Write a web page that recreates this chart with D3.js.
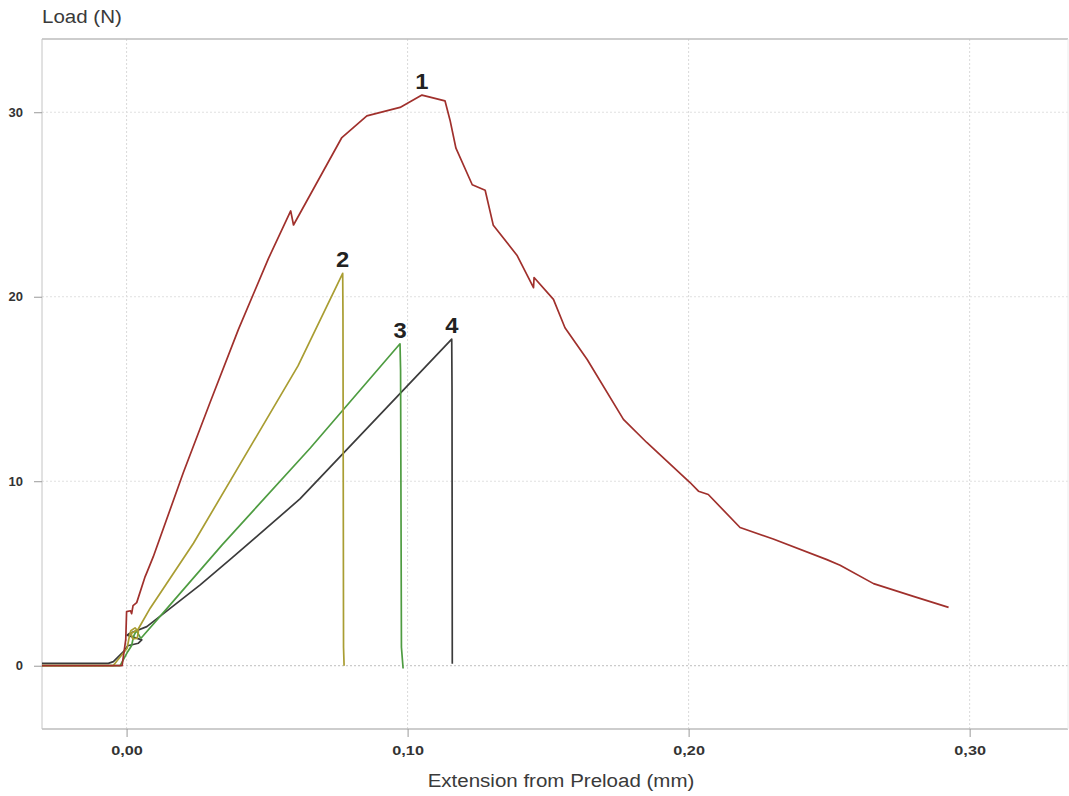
<!DOCTYPE html>
<html>
<head>
<meta charset="utf-8">
<script src="https://cdn.jsdelivr.net/npm/d3@7"></script>
<style>
  html, body { margin: 0; padding: 0; background: #ffffff; }
  svg { display: block; font-family: "Liberation Sans", Arial, sans-serif; }
</style>
</head>
<body>
<svg id="chart" width="1069" height="796"></svg>
<script>
// ---- Data ----
const xTicks = [0, 0.10, 0.20, 0.30];
const xTickLabels = ["0,00", "0,10", "0,20", "0,30"];
const yTicks = [0, 10, 20, 30];
const yTickLabels = ["0", "10", "20", "30"];
const xTitle = "Extension from Preload (mm)";
const yTitle = "Load (N)";

const seriesNames = ["1", "2", "3", "4"];
const seriesColors = ["#a0302c", "#a99d32", "#4e9c41", "#3b3b3b"];

const ext1 = [-0.0301, -0.0016, -0.0003, 0.0000, 0.0014, 0.0018, 0.0023, 0.0036, 0.0066, 0.0072, 0.0095,
  0.0202, 0.0297, 0.0398, 0.0505, 0.0584, 0.0594, 0.0766, 0.0855, 0.0973, 0.1051, 0.1133, 0.1151,
  0.1172, 0.1230, 0.1276, 0.1305, 0.1389, 0.1448, 0.1450, 0.1519, 0.1560, 0.1639, 0.1768, 0.1851,
  0.2005, 0.2035, 0.2070, 0.2183, 0.2301, 0.2492, 0.2539, 0.2658, 0.2800, 0.2925];
const load1 = [0, 0, 1.41, 2.93, 2.98, 2.82, 3.26, 3.42, 4.83, 5.05, 5.91,
  10.47, 14.27, 18.23, 22.08, 24.65, 23.89, 28.63, 29.80, 30.26, 30.93, 30.62, 29.57,
  28.05, 26.07, 25.77, 23.87, 22.25, 20.49, 21.04, 19.86, 18.32, 16.60, 13.35, 12.10,
  9.93, 9.46, 9.28, 7.49, 6.87, 5.75, 5.45, 4.45, 3.76, 3.16];

const ext2 = [-0.0301, -0.0048, 0.0002, 0.0010, 0.0015, 0.0030, 0.0042, 0.0038, 0.0022, 0.0016, 0.0040,
  0.0084, 0.0238, 0.0610, 0.0769, 0.0770, 0.0772, 0.0774];
const load2 = [0, 0, 0.95, 1.6, 1.9, 2.05, 1.85, 1.5, 1.45, 1.75, 1.95,
  3.12, 6.64, 16.25, 21.27, 19.0, 1.0, 0];

const ext3 = [-0.0301, -0.0023, 0.0004, 0.0018, 0.0025, 0.0035, 0.0048, 0.0052,
  0.0144, 0.0340, 0.0653, 0.0973, 0.0975, 0.0978, 0.0984];
const load3 = [0, 0, 0.76, 1.1, 1.6, 1.9, 1.55, 1.5,
  3.11, 6.55, 11.79, 17.45, 16.0, 1.0, -0.15];

const ext4 = [-0.0301, -0.0065, -0.0047, -0.0011, 0.0004, 0.0042, 0.0054, 0.0002, 0.0010,
  0.0072, 0.0262, 0.0375, 0.0617, 0.1157, 0.1158, 0.1159];
const load4 = [0.13, 0.13, 0.22, 0.76, 1.08, 1.22, 1.4, 1.66, 1.75,
  2.12, 4.38, 5.84, 9.04, 17.70, 15.0, 0.10];

const allExt = [ext1, ext2, ext3, ext4];
const allLoad = [load1, load2, load3, load4];

// ---- Layout ----
const svg = d3.select("#chart");
const plot = { left: 42, top: 39, right: 1068, bottom: 729 };
const font = "'Liberation Sans', Arial, sans-serif";

const x = d3.scaleLinear().domain([-0.0301, 0.3350]).range([plot.left, plot.right]);
const y = d3.scaleLinear().domain([-3.43, 33.97]).range([plot.bottom, plot.top]);

// gridlines
const grid = svg.append("g");
grid.selectAll("line.gx").data(xTicks).enter().append("line")
  .attr("x1", d => x(d)).attr("x2", d => x(d))
  .attr("y1", plot.top).attr("y2", plot.bottom)
  .attr("stroke", "#d9d9d9").attr("stroke-width", 1).attr("stroke-dasharray", "2,2");
grid.selectAll("line.gy").data(yTicks).enter().append("line")
  .attr("x1", plot.left).attr("x2", plot.right)
  .attr("y1", d => y(d)).attr("y2", d => y(d))
  .attr("stroke", d => d === 0 ? "#bdbdbd" : "#e0e0e0").attr("stroke-width", 1).attr("stroke-dasharray", "2,2");

// frame
svg.append("line").attr("x1", plot.left).attr("x2", plot.right).attr("y1", plot.top).attr("y2", plot.top)
  .attr("stroke", "#bcbcbc").attr("stroke-width", 1.5);
svg.append("line").attr("x1", plot.left).attr("x2", plot.right).attr("y1", plot.bottom).attr("y2", plot.bottom)
  .attr("stroke", "#bcbcbc").attr("stroke-width", 1.5);
svg.append("line").attr("x1", plot.left).attr("x2", plot.left).attr("y1", plot.top).attr("y2", plot.bottom)
  .attr("stroke", "#c4c4c4").attr("stroke-width", 1);
svg.append("line").attr("x1", plot.right).attr("x2", plot.right).attr("y1", plot.top).attr("y2", plot.bottom)
  .attr("stroke", "#ececec").attr("stroke-width", 1);

// axes
const xAxis = d3.axisBottom(x).tickValues(xTicks).tickSize(8).tickPadding(9)
  .tickFormat((d, i) => xTickLabels[i]);
const gx = svg.append("g").attr("transform", `translate(0,${plot.bottom})`).call(xAxis);
gx.select(".domain").remove();
gx.selectAll(".tick line").attr("stroke", "#9a9a9a");
gx.selectAll(".tick text").attr("fill", "#333").attr("font-size", 12.5).attr("font-weight", "bold")
  .attr("font-family", font)
  .attr("transform", "scale(1.3,1)");

const yAxis = d3.axisLeft(y).tickValues(yTicks).tickSize(8).tickPadding(11)
  .tickFormat((d, i) => yTickLabels[i]);
const gy = svg.append("g").attr("transform", `translate(${plot.left},0)`).call(yAxis);
gy.select(".domain").remove();
gy.selectAll(".tick line").attr("stroke", "#9a9a9a");
gy.selectAll(".tick text").attr("fill", "#333").attr("font-size", 13).attr("font-weight", "bold")
  .attr("font-family", font);

// titles (slightly wide lettering as in the reference)
svg.append("text").attr("transform", "translate(42,23) scale(1.08,1)").attr("fill", "#3a3a3a")
  .attr("font-size", 19).text(yTitle);
svg.append("text").attr("transform", `translate(${(plot.left + plot.right) / 2 + 6},787) scale(1.08,1)`)
  .attr("text-anchor", "middle")
  .attr("fill", "#3a3a3a").attr("font-size", 19).text(xTitle);

// series
const line = d3.line().x(d => x(d[0])).y(d => y(d[1]));
const clip = svg.append("clipPath").attr("id", "clip").append("rect")
  .attr("x", plot.left).attr("y", plot.top).attr("width", plot.right - plot.left).attr("height", plot.bottom - plot.top);
const gLines = svg.append("g").attr("clip-path", "url(#clip)");
[3, 2, 1, 0].forEach(i => {
  const pts = allExt[i].map((e, k) => [e, allLoad[i][k]]);
  gLines.append("path").attr("d", line(pts)).attr("fill", "none")
    .attr("stroke", seriesColors[i]).attr("stroke-width", 1.7).attr("stroke-linejoin", "round");
});

// peak labels
seriesNames.forEach((name, i) => {
  const ld = allLoad[i];
  const k = d3.maxIndex(ld);
  svg.append("text").attr("transform", `translate(${x(allExt[i][k])},${y(ld[k]) - 6}) scale(1.08,1)`)
    .attr("text-anchor", "middle").attr("font-size", 22).attr("font-weight", "bold")
    .attr("fill", "#222").text(name);
});
</script>
</body>
</html>
